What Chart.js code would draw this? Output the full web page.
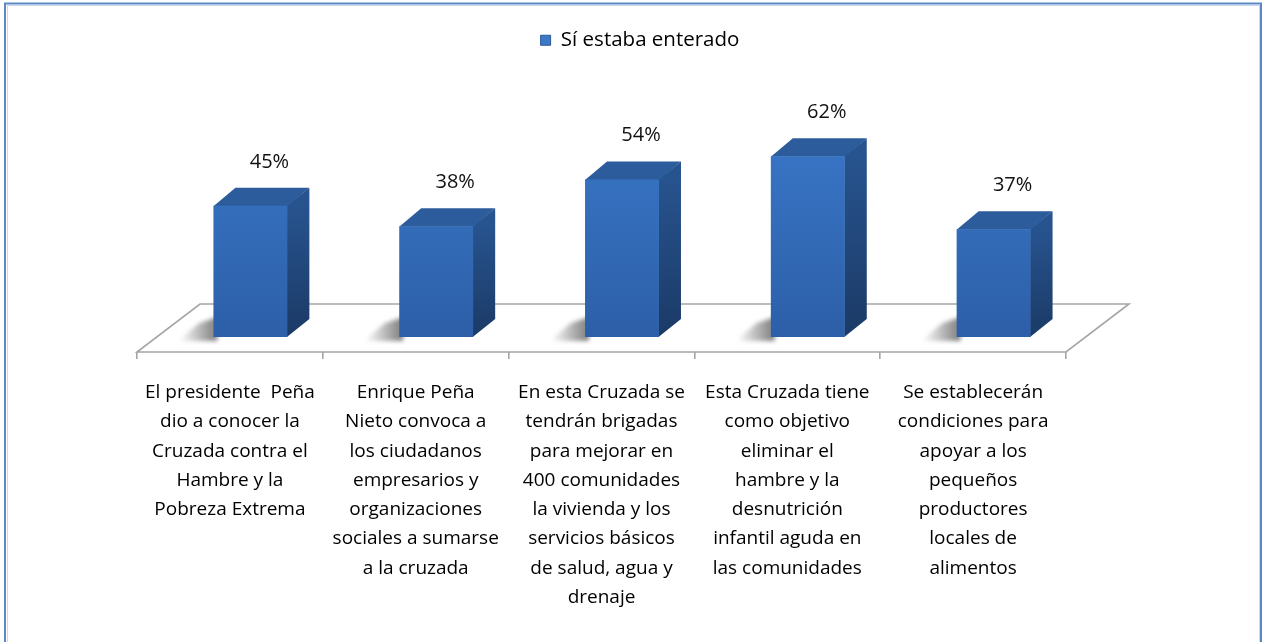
<!DOCTYPE html>
<html>
<head>
<meta charset="utf-8">
<script src="https://cdn.jsdelivr.net/npm/chart.js@4/dist/chart.umd.min.js"></script>
<style>
  html, body { margin: 0; padding: 0; background: #ffffff; }
  #c { display: block; }
</style>
</head>
<body>
<canvas id="c" width="1267" height="642"></canvas>
<script>
// ---- data ----
const seriesName = 'Sí estaba enterado';
const categories = [
  ['El presidente  Peña', 'dio a conocer la', 'Cruzada contra el', 'Hambre y la', 'Pobreza Extrema'],
  ['Enrique Peña', 'Nieto convoca a', 'los ciudadanos', 'empresarios y', 'organizaciones', 'sociales a sumarse', 'a la cruzada'],
  ['En esta Cruzada se', 'tendrán brigadas', 'para mejorar en', '400 comunidades', 'la vivienda y los', 'servicios básicos', 'de salud, agua y', 'drenaje'],
  ['Esta Cruzada tiene', 'como objetivo', 'eliminar el', 'hambre y la', 'desnutrición', 'infantil aguda en', 'las comunidades'],
  ['Se establecerán', 'condiciones para', 'apoyar a los', 'pequeños', 'productores', 'locales de', 'alimentos']
];
const values = [45, 38, 54, 62, 37];
const valueLabels = ['45%', '38%', '54%', '62%', '37%'];

// ---- style ----
const FONT = "'Open Sans', 'DejaVu Sans', sans-serif";
const FLOOR = { dx: 63, dy: 48 };      // depth of the floor
const BAR_OFF = { dx: 20.5, dy: 15 };  // bar placement inside floor depth
const BAR_DEPTH = { dx: 22, dy: 18 };  // depth of each bar

function frontGradient(ctx, chart) {
  const a = chart.chartArea;
  if (!a) return '#3670be';
  const g = ctx.createLinearGradient(0, a.top, 0, a.bottom);
  g.addColorStop(0, '#3d80d3');
  g.addColorStop(1, '#2d5fa8');
  return g;
}

const framePlugin = {
  id: 'frame',
  beforeDraw(chart) {
    const ctx = chart.ctx;
    ctx.save();
    ctx.fillStyle = '#ffffff';
    ctx.fillRect(0, 0, chart.width, chart.height);
    ctx.restore();
  },
  afterDraw(chart) {
    const ctx = chart.ctx;
    ctx.save();
    ctx.strokeStyle = '#c9d8ec';
    ctx.lineWidth = 1;
    ctx.strokeRect(7.5, 5.5, chart.width - 15, chart.height + 20);
    ctx.strokeStyle = '#5b88c4';
    ctx.lineWidth = 2;
    ctx.strokeRect(5, 3.5, chart.width - 11, chart.height + 20);
    ctx.restore();
  }
};

const depthPlugin = {
  id: 'depth3d',
  beforeDatasetsDraw(chart) {
    const { ctx, chartArea: a } = chart;
    // floor
    ctx.save();
    ctx.beginPath();
    ctx.moveTo(a.left, a.bottom);
    ctx.lineTo(a.right, a.bottom);
    ctx.lineTo(a.right + FLOOR.dx, a.bottom - FLOOR.dy);
    ctx.lineTo(a.left + FLOOR.dx, a.bottom - FLOOR.dy);
    ctx.closePath();
    ctx.fillStyle = '#ffffff';
    ctx.fill();
    ctx.strokeStyle = '#a5a5a5';
    ctx.lineWidth = 1.6;
    ctx.stroke();
    ctx.restore();

    ctx.save();
    ctx.translate(BAR_OFF.dx, -BAR_OFF.dy);
    const meta = chart.getDatasetMeta(0);
    meta.data.forEach(bar => {
      const p = bar.getProps(['x', 'y', 'base', 'width'], true);
      const L = p.x - p.width / 2, R = p.x + p.width / 2;
      // soft shadow on floor, fading to the left of the bar base
      ctx.save();
      ctx.filter = 'blur(2px)';
      const shg = ctx.createLinearGradient(L, 0, L - 34, 0);
      shg.addColorStop(0, 'rgba(40,40,40,0.55)');
      shg.addColorStop(1, 'rgba(40,40,40,0)');
      ctx.fillStyle = shg;
      ctx.beginPath();
      ctx.moveTo(L + 4, p.base - 20);
      ctx.lineTo(L + 4, p.base + 4);
      ctx.lineTo(L - 36, p.base + 4);
      ctx.lineTo(L - 14, p.base - 14);
      ctx.closePath();
      ctx.fill();
      ctx.restore();
      // side face
      const sg = ctx.createLinearGradient(0, p.y, 0, p.base);
      sg.addColorStop(0, '#27538e');
      sg.addColorStop(1, '#1b3a66');
      ctx.fillStyle = sg;
      ctx.beginPath();
      ctx.moveTo(R - 0.5, p.y);
      ctx.lineTo(R + BAR_DEPTH.dx, p.y - BAR_DEPTH.dy);
      ctx.lineTo(R + BAR_DEPTH.dx, p.base - BAR_DEPTH.dy);
      ctx.lineTo(R - 0.5, p.base);
      ctx.closePath();
      ctx.fill();
      // top face
      ctx.fillStyle = '#2c5c9c';
      ctx.beginPath();
      ctx.moveTo(L, p.y + 0.5);
      ctx.lineTo(R, p.y + 0.5);
      ctx.lineTo(R + BAR_DEPTH.dx, p.y - BAR_DEPTH.dy);
      ctx.lineTo(L + BAR_DEPTH.dx, p.y - BAR_DEPTH.dy);
      ctx.closePath();
      ctx.fill();
    });
  },
  afterDatasetsDraw(chart) {
    const ctx = chart.ctx;
    ctx.restore();
    // value labels
    const meta = chart.getDatasetMeta(0);
    ctx.save();
    ctx.font = '20px ' + FONT;
    ctx.fillStyle = '#111111';
    ctx.textAlign = 'center';
    ctx.textBaseline = 'middle';
    meta.data.forEach((bar, i) => {
      const p = bar.getProps(['x', 'y'], true);
      ctx.fillText(valueLabels[i], p.x + BAR_OFF.dx + 19, p.y - BAR_OFF.dy - 44);
    });
    ctx.restore();
  }
};

new Chart(document.getElementById('c'), {
  type: 'bar',
  data: {
    labels: categories,
    datasets: [{
      label: seriesName,
      data: values,
      backgroundColor: (c) => frontGradient(c.chart.ctx, c.chart),
      borderWidth: 0,
      categoryPercentage: 1,
      barPercentage: 0.398,
      clip: false
    }]
  },
  options: {
    responsive: false,
    devicePixelRatio: 1,
    animation: false,
    layout: { padding: { left: 13, right: 0, top: 20, bottom: 0 } },
    scales: {
      x: {
        grid: { offset: true, drawOnChartArea: false, drawTicks: true, tickLength: 7, color: '#a5a5a5', lineWidth: 1.6 },
        border: { display: false },
        ticks: {
          autoSkip: false, maxRotation: 0, minRotation: 0, padding: 19,
          color: '#000000',
          font: { family: FONT, size: 19, lineHeight: 1.54 }
        },
        afterFit: (s) => { s.height = 290; }
      },
      y: {
        position: 'left', min: 0, max: 100,
        grid: { display: false }, border: { display: false },
        ticks: { display: false },
        afterFit: (s) => { s.width = 124; }
      },
      y2: {
        position: 'right', min: 0, max: 100,
        grid: { display: false }, border: { display: false },
        ticks: { display: false },
        afterFit: (s) => { s.width = 201; }
      }
    },
    plugins: {
      tooltip: { enabled: false },
      legend: {
        position: 'top',
        labels: {
          boxWidth: 10, boxHeight: 10, padding: 10,
          color: '#000000',
          font: { family: FONT, size: 20.5 },
          generateLabels: (chart) => [{
            text: seriesName,
            fillStyle: '#3b78c6',
            strokeStyle: '#2a5a98',
            lineWidth: 1,
            datasetIndex: 0
          }]
        }
      }
    }
  },
  plugins: [framePlugin, depthPlugin]
});
</script>
</body>
</html>
